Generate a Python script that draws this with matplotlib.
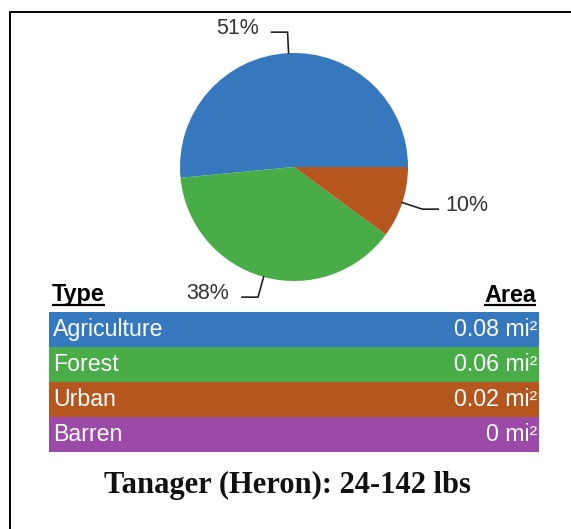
import numpy as np
import matplotlib
matplotlib.use("Agg")
import matplotlib.pyplot as plt

# ---- data ----
categories = ["Agriculture", "Forest", "Urban", "Barren"]
percent = [51, 38, 10, 0]
areas = ["0.08 mi²", "0.06 mi²", "0.02 mi²", "0 mi²"]
colors = ["#3578BE", "#48AC47", "#B4561E", "#9C4AA8"]
title = "Tanager (Heron): 24-142 lbs"
header_type = "Type"
header_area = "Area"

W, H = 571, 529
fig = plt.figure(figsize=(W / 100, H / 100), dpi=100)
ax = fig.add_axes([0, 0, 1, 1])

cx, cy, R = 294, 167, 114
wedges, _ = ax.pie(percent, colors=colors, startangle=0, counterclock=False,
                   center=(cx, cy), radius=R, frame=True,
                   wedgeprops=dict(linewidth=0))
ax.set_xlim(0, W)
ax.set_ylim(H, 0)
ax.set_aspect("equal")
ax.axis("off")

sans = "Liberation Sans"
lab_fs = 15.5
tab_fs = 16.7
line_col = "#222222"
for w, p in zip(wedges, percent):
    if p <= 0:
        continue
    tm = np.deg2rad(0.5 * (w.theta1 + w.theta2))
    c, s = np.cos(tm), np.sin(tm)
    ax_ = cx + R * c
    ay_ = cy + R * s
    bx, by = ax_ + 21 * c, ay_ + 21 * s
    sgn = 1 if c > 0 else -1
    ccx = bx + sgn * 16
    ax.plot([ax_, bx, ccx], [ay_, by, by], color=line_col, lw=1.2,
            solid_joinstyle="miter")
    gap = 7 if sgn > 0 else 13
    ax.text(ccx + sgn * gap, by - 4, f"{p}%", ha="left" if sgn > 0 else "right",
            va="center", fontsize=lab_fs, family=sans, color="#333333")

# table
x0, x1 = 49, 539
row_top, row_h = 312, 35
for i, (cat, ar, col) in enumerate(zip(categories, areas, colors)):
    y = row_top + i * row_h
    ax.add_patch(plt.Rectangle((x0, y), x1 - x0, row_h, color=col, lw=0))
    ax.text(x0 + 4, y + row_h / 2, cat, ha="left", va="center", color="white",
            fontsize=tab_fs, family=sans)
    ax.text(x1 - 2, y + row_h / 2, ar, ha="right", va="center", color="white",
            fontsize=tab_fs, family=sans)

fig.canvas.draw()
renderer = fig.canvas.get_renderer()
inv = ax.transData.inverted()
for txt, xx, ha in [(header_type, 52, "left"), (header_area, 536, "right")]:
    t = ax.text(xx, 295, txt, ha=ha, va="center", fontsize=16.8,
                family=sans, weight="bold", color="black")
    bb = t.get_window_extent(renderer)
    (lx0, _), (lx1, _) = inv.transform([[bb.x0, 0], [bb.x1, 0]])
    ax.plot([lx0, lx1], [305, 305], color="black", lw=1.6, solid_capstyle="butt")

ax.text(287, 485, title, ha="center", va="center", fontsize=22,
        family="Liberation Serif", weight="bold", color="#111111")

# frame lines
ax.plot([10, 10, W], [H, 12, 12], color="black", lw=1.4, solid_joinstyle="miter")

fig.savefig("out.png", dpi=100)
